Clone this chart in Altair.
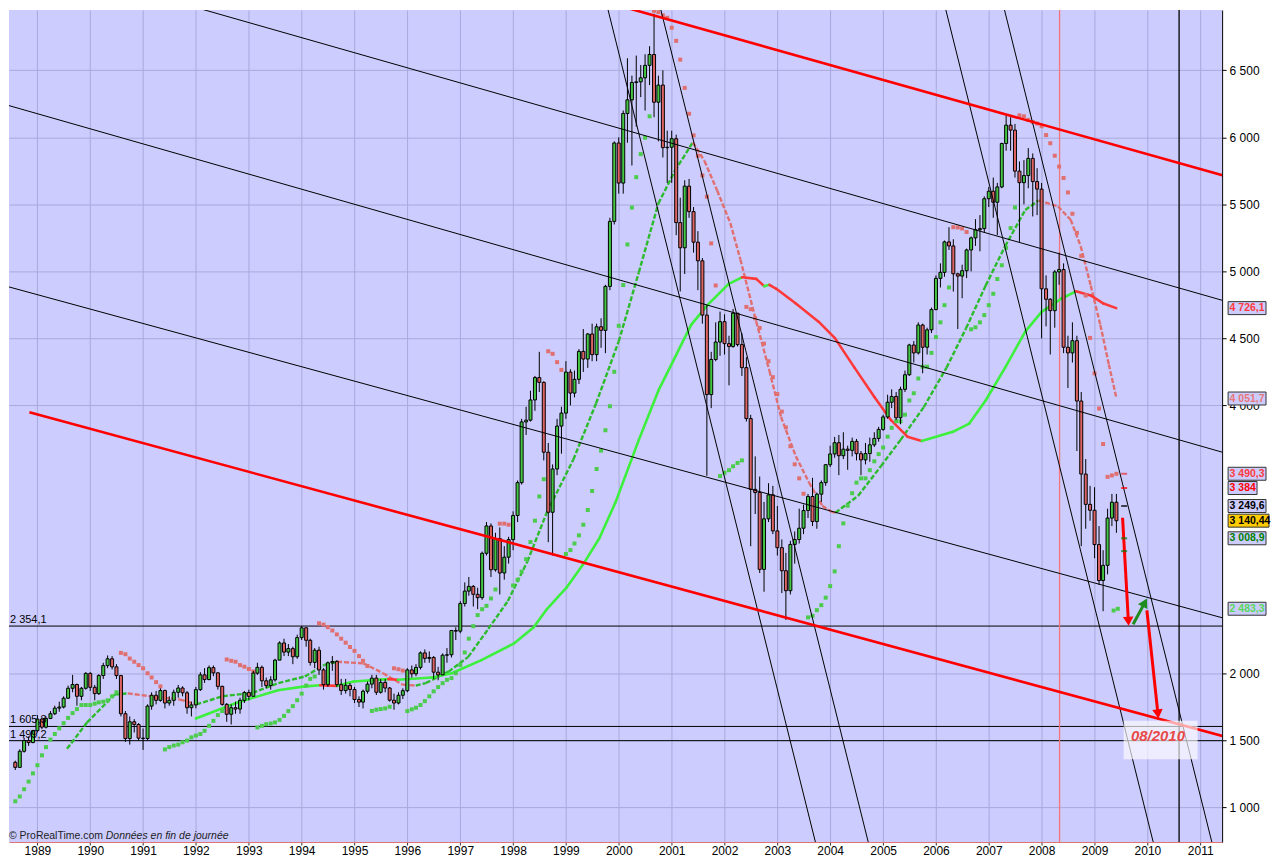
import altair as alt
import pandas as pd
import numpy as np

# ---------------- values ----------------
# monthly candles, Aug 1988 .. Jun 2009
first_month = "1988-08-01"
first_open = 1338

close = [
    1300, 1420, 1500, 1485, 1574,
    1660, 1600, 1665, 1700, 1742, 1750, 1816, 1890, 1918, 1830, 1890, 2001,
    1897, 1850, 1985, 2059, 2110, 2050, 1985, 1700, 1515, 1640, 1620, 1518,
    1515, 1757, 1838, 1800, 1873, 1780, 1800, 1860, 1892, 1856, 1745, 1766,
    1880, 1990, 1955, 2044, 2005, 1904, 1770, 1696, 1745, 1735, 1800, 1858,
    1830, 2003, 2046, 1946, 1910, 1953, 2100, 2228, 2160, 2186, 2125, 2268,
    2341, 2248, 2083, 2174, 2027, 1917, 2080, 2090, 1917, 1873, 1912, 1881,
    1806, 1787, 1868, 1921, 1966, 1860, 1934, 1892, 1801, 1780, 1838, 1872,
    2027, 1998, 2046, 2154, 2113, 2120, 2010, 1990, 2137, 2140, 2321, 2316,
    2522, 2615, 2650, 2591, 2566, 2897, 3101, 2774, 3007, 2750, 2868, 2999,
    3179, 3424, 3877, 3890, 4041, 4208, 4172, 3651, 3203, 3526, 3846, 3943,
    4249, 4092, 4195, 4403, 4346, 4533, 4379, 4587, 4560, 4888, 5373, 5958,
    5659, 6178, 6280, 6409, 6414, 6444, 6537, 6618, 6262, 6390, 5923, 5926,
    5990, 5364, 5176, 5636, 5446, 5218, 5079, 4674, 4081, 4343, 4473, 4625,
    4461, 4440, 4688, 4454, 4282, 3902, 3374, 3350, 2777, 3154, 3333, 3064,
    2939, 2767, 2618, 2963, 3000, 3084, 3216, 3321, 3134, 3338, 3424, 3558,
    3638, 3722, 3625, 3674, 3665, 3732, 3640, 3594, 3641, 3706, 3754, 3821,
    3914, 4024, 4067, 3908, 4120, 4229, 4451, 4392, 4600, 4434, 4564, 4715,
    4948, 4993, 5220, 5190, 4982, 4965, 5005, 5160, 5250, 5311, 5319, 5542,
    5598, 5516, 5630, 5954, 6091, 6054, 5748, 5662, 5715, 5843, 5670, 5614,
    4870, 4792, 4707, 4996, 5014, 4434, 4392, 4483, 4033, 3488, 3262, 3218,
    2962, 2694, 2807, 3160, 3278, 3140,
]

high = [
    1350, 1435, 1520, 1530, 1580,
    1690, 1675, 1680, 1720, 1760, 1790, 1830, 1910, 1990, 1925, 1900, 2010,
    2010, 1915, 1995, 2080, 2135, 2130, 2070, 1990, 1720, 1680, 1660, 1630,
    1590, 1770, 1860, 1870, 1890, 1880, 1830, 1880, 1915, 1905, 1870, 1790,
    1900, 2010, 2040, 2060, 2060, 2010, 1910, 1780, 1770, 1790, 1820, 1870,
    1880, 2020, 2080, 2060, 1970, 1980, 2110, 2240, 2260, 2220, 2200, 2290,
    2355, 2345, 2260, 2190, 2200, 2040, 2090, 2130, 2100, 1960, 1960, 1930,
    1900, 1830, 1880, 1940, 1990, 1990, 1960, 1960, 1900, 1850, 1860, 1890,
    2040, 2060, 2070, 2165, 2180, 2165, 2130, 2050, 2150, 2190, 2325, 2345,
    2540, 2680, 2720, 2660, 2640, 2910, 3130, 3120, 3050, 3090, 2950, 3020,
    3210, 3440, 3900, 3990, 4110, 4220, 4400, 4180, 3720, 3560, 3900, 3990,
    4330, 4270, 4260, 4420, 4570, 4540, 4610, 4610, 4650, 4900, 5400, 5970,
    6000, 6200, 6590, 6460, 6610, 6540, 6620, 6680, 6922, 6460, 6500, 6050,
    6050, 6020, 5550, 5680, 5690, 5480, 5300, 5100, 4750, 4400, 4620, 4700,
    4680, 4520, 4720, 4690, 4540, 4360, 3930, 3620, 3470, 3280, 3420, 3400,
    3250, 3000, 2900, 2990, 3060, 3230, 3260, 3340, 3460, 3350, 3440, 3560,
    3700, 3765, 3780, 3800, 3700, 3760, 3750, 3660, 3720, 3760, 3800, 3840,
    3930, 4080, 4120, 4100, 4140, 4260, 4460, 4480, 4620, 4610, 4580, 4730,
    4970, 5060, 5230, 5330, 5240, 4990, 5050, 5170, 5260, 5390, 5420, 5560,
    5630, 5700, 5660, 5960, 6168, 6150, 6100, 5820, 5830, 5920, 5880, 5770,
    5660, 4970, 4800, 5010, 5140, 5060, 4520, 4620, 4520, 4100, 3600, 3400,
    3390, 3100, 2920, 3230, 3340, 3340,
]

low = [
    1280, 1295, 1410, 1460, 1480,
    1560, 1585, 1590, 1660, 1690, 1715, 1740, 1810, 1860, 1760, 1800, 1880,
    1870, 1800, 1840, 1960, 2040, 2030, 1960, 1680, 1490, 1470, 1560, 1500,
    1430, 1500, 1730, 1770, 1790, 1740, 1760, 1760, 1820, 1830, 1700, 1680,
    1740, 1870, 1930, 1950, 1980, 1880, 1760, 1640, 1620, 1700, 1700, 1780,
    1800, 1830, 1990, 1900, 1890, 1880, 1940, 2100, 2130, 2130, 2070, 2110,
    2250, 2200, 2060, 2040, 1990, 1880, 1900, 2020, 1900, 1840, 1850, 1830,
    1780, 1750, 1740, 1850, 1890, 1840, 1850, 1860, 1790, 1730, 1770, 1810,
    1860, 1970, 1980, 2030, 2080, 2080, 1960, 1950, 1990, 2080, 2120, 2250,
    2300, 2500, 2580, 2500, 2480, 2550, 2880, 2720, 2760, 2590, 2700, 2820,
    2920, 3130, 3410, 3780, 3880, 3960, 4100, 3590, 2980, 2880, 3480, 3640,
    3900, 4000, 4060, 4160, 4250, 4280, 4330, 4330, 4430, 4390, 4860, 5350,
    5580, 5580, 5960, 5790, 6080, 6300, 6200, 6390, 6150, 5970, 5850, 5660,
    5660, 5270, 4850, 4980, 5400, 5140, 4860, 4610, 3475, 3980, 4330, 4370,
    4380, 4150, 4430, 4440, 4220, 3880, 2950, 3190, 2750, 2610, 3130, 3040,
    2880, 2600, 2400, 2590, 2820, 2970, 3040, 3160, 3100, 3080, 3280, 3400,
    3540, 3610, 3480, 3600, 3520, 3620, 3590, 3480, 3560, 3580, 3690, 3730,
    3810, 3900, 3980, 3890, 3860, 4100, 4220, 4320, 4380, 4240, 4380, 4540,
    4710, 4880, 4960, 5160, 4850, 4570, 4800, 4950, 5000, 5190, 5150, 5290,
    5480, 5400, 5270, 5620, 5900, 5900, 5700, 5220, 5500, 5620, 5410, 5420,
    4500, 4590, 4380, 4580, 4900, 4390, 4130, 4320, 3660, 2950, 3080, 3140,
    2860, 2660, 2465, 2740, 3100, 3050,
]

# parabolic SAR dots, one per month
sar = [
    1047, 1083, 1137, 1194, 1255,
    1316, 1390, 1451, 1507, 1549, 1591, 1630, 1669, 1705, 1735, 1765, 1765,
    1765, 1775, 1785, 1790, 1800, 1830, 1860, 2154, 2144, 2112, 2088, 2063,
    2039, 2002, 1971, 1936, 1904, 1434, 1451, 1463, 1470, 1487, 1500, 1524,
    1537, 1549, 1573, 1610, 1647, 1690, 1720, 2105, 2095, 2088, 2063, 2051,
    2034, 2015, 1598, 1610, 1622, 1627, 1635, 1654, 1684, 1720, 1757, 1801,
    1850, 1910, 1960, 1978, 2375, 2365, 2346, 2321, 2292, 2260, 2230, 2198,
    2169, 2130, 2095, 2056, 1721, 1730, 1735, 1740, 1752, 2039, 2032, 2022,
    1720, 1733, 1745, 1765, 1794, 1830, 1867, 1899, 1928, 1953, 1966, 2002,
    2064, 2157, 2260, 2353, 2436, 2480, 2505, 2560, 2627, 3118, 3118, 3110,
    2657, 2700, 2760, 2853, 2981, 3140, 3321, 3450, 4404, 4385, 4323, 4265,
    2892, 2921, 2970, 3031, 3110, 3220, 3362, 3526, 3663, 3815, 3994, 4251,
    4594, 4898, 5201, 5476, 5703, 5875, 5997, 6157, 6944, 6934, 6910, 6892,
    6818, 6720, 6580, 6369, 6176, 6015, 5863, 5716, 5557, 5209, 4895, 3473,
    3498, 3517, 3546, 3571, 3590, 4735, 4718, 4650, 4578, 4461, 4330, 4211,
    4085, 3954, 3836, 3696, 3561, 3456, 3341, 2419, 2431, 2473, 2510, 2566,
    2652, 2762, 2950, 3120, 3252, 3345, 3424, 3456, 3456, 3517, 3583, 3637,
    3686, 3767, 3833, 3882, 3882, 3931, 4037, 4091, 4201, 4289, 4289, 4392,
    4510, 4620, 4748, 4880, 5330, 5328, 5320, 5294, 4568, 4583, 4620, 4674,
    4748, 4833, 4943, 5046, 5176, 5323, 5477, 6164, 6157, 6130, 6115, 6103,
    6083, 6017, 5956, 5863, 5782, 5697, 5589, 5430, 5288, 5116, 4820, 4504,
    4239, 3977, 3712, 3467, 3478, 3490,
]
sar_extra_t = [2009.36, 2009.44]
sar_extra_v = [2470, 2483]

# long moving average (green rising / red falling), (fractional year, value)
ma_long_t = [1992.00, 1992.81, 1993.55, 1994.06, 1994.35, 1994.67, 1994.98, 1995.64, 1995.82,
             1996.47, 1996.84, 1997.40, 1998.01, 1998.39, 1998.64, 1999.01, 1999.32, 1999.63,
             1999.94, 2000.38, 2000.75, 2001.37, 2001.68, 2002.08, 2002.33, 2002.60, 2002.75,
             2002.85, 2002.98, 2003.35, 2003.78, 2004.09, 2004.46, 2004.84, 2005.15, 2005.46,
             2005.73, 2006.32, 2006.63, 2006.94, 2007.31, 2007.69, 2008.00, 2008.37, 2008.65,
             2008.93, 2009.17, 2009.41]
ma_long_v = [1664, 1787, 1875, 1904, 1912, 1908, 1941, 1958, 1954,
             1970, 2002, 2100, 2223, 2346, 2481, 2640, 2811, 3007,
             3279, 3743, 4110, 4603, 4750, 4907, 4956, 4944, 4890,
             4900, 4870, 4760, 4625, 4502, 4282, 4061, 3890, 3767,
             3735, 3803, 3865, 4037, 4282, 4551, 4698, 4796, 4851,
             4821, 4760, 4726]

# shorter moving average (dash-dot)
ma_short_t = [1989.56, 1989.94, 1990.46, 1990.71, 1991.14, 1991.70, 1992.01, 1992.51, 1993.07,
              1993.56, 1994.06, 1994.43, 1994.67, 1995.17, 1995.54, 1995.91, 1996.16, 1996.35,
              1996.78, 1997.15, 1997.53, 1997.90, 1998.27, 1998.64, 1999.14, 1999.57, 2000.00,
              2000.38, 2000.75, 2001.06, 2001.40, 2001.62, 2001.86, 2002.11, 2002.30, 2002.60,
              2002.85, 2003.07, 2003.35, 2003.60, 2003.85, 2004.03, 2004.10, 2004.53, 2004.96,
              2005.33, 2005.77, 2006.20, 2006.57, 2006.94, 2007.31, 2007.69, 2007.94, 2008.31,
              2008.55, 2008.74, 2008.93, 2009.11, 2009.27, 2009.41]
ma_short_v = [1439, 1635, 1843, 1852, 1831, 1806, 1770, 1831, 1855,
              1929, 1978, 2064, 2088, 2076, 2002, 1917, 1910, 1929,
              2014, 2124, 2333, 2541, 2836, 3204, 3596, 4015, 4478,
              4993, 5507, 5750, 5963, 5824, 5603, 5360, 5089, 4625,
              4257, 3914, 3620, 3424, 3252, 3206, 3200, 3326, 3547,
              3743, 3988, 4282, 4576, 4894, 5188, 5458, 5529, 5485,
              5385, 5188, 4894, 4600, 4306, 4061]

# drawn trend lines: start (year, value) -> end (year, value)
trend_t1 = [2000.00, 1988.85, 1991.90, 1988.40, 1988.40, 1999.78, 2000.78, 2006.17, 2007.28]
trend_v1 = [6983, 3949, 6980, 6244, 4891, 6978, 6978, 6978, 6978]
trend_t2 = [2011.50, 2011.50, 2011.50, 2011.50, 2011.50, 2003.72, 2004.72, 2010.11, 2011.22]
trend_v2 = [5708, 1525, 4775, 3642, 2407, 743, 743, 743, 743]
trend_kind = ["red", "red", "black", "black", "black", "black", "black", "black", "black"]

hline_v = [2354.1, 1605.3, 1499.2]
hline_label = ["2 354,1", "1 605,3", "1 499,2"]
vline_t = [2008.34, 2010.60]
vline_kind = ["pink", "black"]

# forecast arrows
arrow_t1 = [2009.53, 2009.73, 2009.99]
arrow_v1 = [3162, 2368, 2471]
arrow_t2 = [2009.64, 2009.95, 2010.20]
arrow_v2 = [2390, 2529, 1699]
arrow_kind = ["red", "green", "red"]

# next-value markers right of the last candle
mark_t = 2009.56
mark_v = [3490.3, 3384, 3249.6, 3008.9, 2913]
mark_col = ["#E83030", "#FF0000", "#000000", "#007A00", "#007A00"]

# value boxes on the price axis
box_v = [4726.1, 4051.7, 3490.3, 3384, 3249.6, 3140.44, 3008.9, 2483.3]
box_txt = ["4 726,1", "4 051,7", "3 490,3", "3 384", "3 249,6", "3 140,44", "3 008,9", "2 483,3"]
box_fg = ["#FF3B3B", "#E87878", "#FF3B3B", "#FF0000", "#000000", "#000000", "#008000", "#5AD85A"]
box_bg = ["#CCCCFF", "#CCCCFF", "#CCCCFF", "#CCCCFF", "#CCCCFF", "#FFCC00", "#CCCCFF", "#CCCCFF"]
box_extent = [44, 44, 44, 35, 44, 47, 44, 44]

y_tick_values = [1000, 1500, 2000, 4000, 4500, 5000, 5500, 6000, 6500]

target_label = "08/2010"

# ---------------- layout ----------------
W, H = 1216, 834
Y_MIN, Y_MAX = 743, 6950
BG = "#CCCCFF"
GRID = "#A9A9DC"
GREEN = "#44C844"
RED = "#E06464"
FONT = "Liberation Sans"


def fy(t):
    y = int(t)
    return pd.Timestamp(year=y, month=1, day=1) + pd.Timedelta(days=(t - y) * 365.25)


XS = alt.Scale(domain=[alt.DateTime(year=1988, month=7, date=23),
                       alt.DateTime(year=2011, month=4, date=28)])
YS = alt.Scale(domain=[Y_MIN, Y_MAX], nice=False, zero=False)

XAX = alt.Axis(values=[alt.DateTime(year=y, month=1, date=1) for y in range(1989, 2012)],
               format="%Y", title=None, grid=True, gridColor=GRID, gridOpacity=1,
               tickSize=3, tickColor="#333333", labelFontSize=12, labelPadding=1,
               labelFlush=False, labelOverlap=False, domainColor="#E07070",
               labelColor="#000000", labelFont=FONT)
YAX = alt.Axis(orient="right", values=y_tick_values, title=None,
               labelExpr="replace(format(datum.value, ','), ',', ' ')",
               grid=True, gridColor=GRID, gridOpacity=1, tickSize=4, tickColor="#000000",
               labelFontSize=12, labelPadding=3, labelOverlap=False, labelFlush=False,
               domainColor="#000000", labelColor="#000000", labelFont=FONT)


def X(f):
    return alt.X(f, type="temporal", scale=XS, axis=XAX, title=None)


def Y(f):
    return alt.Y(f, type="quantitative", scale=YS, axis=YAX, title=None)


def C(f):
    return alt.Color(f, type="nominal", scale=None, legend=None)


months = pd.date_range(first_month, periods=len(close), freq="MS")
opens = [first_open] + close[:-1]
cd = pd.DataFrame({"date": months, "open": opens, "close": close,
                   "high": high, "low": low, "sar": sar})
cd["body_col"] = np.where(cd["close"] >= cd["open"], GREEN, RED)
cd["sar_col"] = np.where(cd["sar"] < cd["close"], "#4CCC4C", "#E07070")


def segs(ts, vs, up_col, down_col):
    rows = []
    for i in range(len(ts) - 1):
        rows.append({"t1": fy(ts[i]), "t2": fy(ts[i + 1]), "v1": vs[i], "v2": vs[i + 1],
                     "col": up_col if vs[i + 1] >= vs[i] else down_col})
    return pd.DataFrame(rows)


axes = alt.Chart(cd).mark_point(opacity=0, clip=True).encode(x=X("date"), y=Y("close"))

hl = pd.DataFrame({"v": hline_v, "label": hline_label})
hlines = alt.Chart(hl).mark_rule(color="#000000", strokeWidth=1).encode(y=Y("v"))
hlabels = alt.Chart(hl).mark_text(align="left", baseline="bottom", dy=-1, fontSize=11,
                                  font=FONT, color="#000000").encode(
    x=alt.value(1), y=Y("v"), text="label:N")

vl = pd.DataFrame({"t": [fy(t) for t in vline_t],
                   "col": ["#F07878" if k == "pink" else "#000000" for k in vline_kind]})
vlines = alt.Chart(vl).mark_rule(strokeWidth=1.3).encode(x=X("t"), color=C("col"))

ml = segs(ma_long_t, ma_long_v, "#3CF03C", "#FF3838")
ma_long = alt.Chart(ml).mark_rule(strokeWidth=2.6, strokeCap="round").encode(
    x=X("t1"), x2="t2", y=Y("v1"), y2="v2", color=C("col"))
ms = segs(ma_short_t, ma_short_v, "#2DBB2D", "#E07070")
ma_short = alt.Chart(ms).mark_rule(strokeWidth=2.4, strokeDash=[5, 2]).encode(
    x=X("t1"), x2="t2", y=Y("v1"), y2="v2", color=C("col"))

sar_dots = alt.Chart(cd).mark_square(size=16, opacity=1, clip=True).encode(
    x=X("date"), y=Y("sar"), color=C("sar_col"))
se = pd.DataFrame({"t": [fy(t) for t in sar_extra_t], "v": sar_extra_v})
sar_extra = alt.Chart(se).mark_square(size=16, opacity=1, color="#4CCC4C").encode(x=X("t"), y=Y("v"))

wicks = alt.Chart(cd).mark_rule(color="#000000", strokeWidth=1, clip=True).encode(
    x=X("date"), y=Y("low"), y2="high")
bodies = alt.Chart(cd).mark_bar(size=3, stroke="#000000", strokeWidth=1, opacity=1, clip=True).encode(
    x=X("date"), y=Y("open"), y2="close", color=C("body_col"))

tl = pd.DataFrame({"t1": [fy(t) for t in trend_t1], "t2": [fy(t) for t in trend_t2],
                   "v1": trend_v1, "v2": trend_v2, "kind": trend_kind})
trend_black = alt.Chart(tl[tl.kind == "black"]).mark_rule(color="#000000", strokeWidth=1, clip=True).encode(
    x=X("t1"), x2="t2", y=Y("v1"), y2="v2")
trend_red = alt.Chart(tl[tl.kind == "red"]).mark_rule(color="#FF0000", strokeWidth=2.6, clip=True).encode(
    x=X("t1"), x2="t2", y=Y("v1"), y2="v2")

ar = pd.DataFrame({"t1": [fy(t) for t in arrow_t1], "t2": [fy(t) for t in arrow_t2],
                   "v1": arrow_v1, "v2": arrow_v2, "kind": arrow_kind})
ar["col"] = np.where(ar["kind"] == "red", "#FF0000", "#1E8C1E")
ar["shape"] = np.where(ar["kind"] == "red", "triangle-down", "triangle-up")
ar["ang"] = [357, 28, 354]
arrow_shaft = alt.Chart(ar).mark_rule(strokeWidth=3).encode(
    x=X("t1"), x2="t2", y=Y("v1"), y2="v2", color=C("col"))
arrow_head = alt.Chart(ar).mark_point(filled=True, size=110, opacity=1).encode(
    x=X("t2"), y=Y("v2"), color=C("col"), fill=alt.Fill("col:N", scale=None),
    shape=alt.Shape("shape:N", scale=None), angle=alt.Angle("ang:Q", scale=None))

mk = pd.DataFrame({"t": [fy(mark_t)] * len(mark_v), "v": mark_v, "c": mark_col})
markers = alt.Chart(mk).mark_tick(orient="horizontal", thickness=2, size=6).encode(
    x=X("t"), y=Y("v"), color=C("c"))

tb = pd.DataFrame({"t1": [fy(2009.55)], "t2": [fy(2010.95)], "v1": [1360], "v2": [1647],
                   "tm": [fy(2010.20)], "vm": [1537], "label": [target_label]})
target_box = alt.Chart(tb).mark_rect(color="#FFFFFF", opacity=0.65).encode(
    x=X("t1"), x2="t2", y=Y("v1"), y2="v2")
target_text = alt.Chart(tb).mark_text(font=FONT, fontSize=15, fontStyle="italic",
                                      fontWeight="bold", color="#E84848").encode(
    x=X("tm"), y=Y("vm"), text="label:N")

half = 6.5 * (Y_MAX - Y_MIN) / H
bx = pd.DataFrame({"v": box_v, "txt": box_txt, "fg": box_fg, "bg": box_bg, "ext": box_extent})
bx["top"] = bx["v"] + half
bx["bot"] = bx["v"] - half
box_layers = []
for e in sorted(set(box_extent)):
    sub = bx[bx["ext"] == e]
    box_layers.append(
        alt.Chart(sub).mark_rect(stroke="#333333", strokeWidth=1).encode(
            x=alt.value(W + 6), x2=alt.value(W + e), y=Y("top"), y2="bot",
            fill=alt.Fill("bg:N", scale=None)))
value_text = alt.Chart(bx).mark_text(align="left", baseline="middle", fontSize=10.5,
                                     fontWeight="bold", font=FONT).encode(
    x=alt.value(W + 7.5), y=Y("v"), text="txt:N", color=C("fg"))

cp = pd.DataFrame({"a": ["\u00a9 ProRealTime.com"], "b": ["Donn\u00e9es en fin de journ\u00e9e"]})
copy1 = alt.Chart(cp).mark_text(align="left", baseline="middle", fontSize=10.5, font=FONT,
                                color="#222222").encode(x=alt.value(0), y=alt.value(H - 6), text="a:N")
copy2 = alt.Chart(cp).mark_text(align="left", baseline="middle", fontSize=10.5, font=FONT,
                                fontStyle="italic", color="#222222").encode(x=alt.value(97), y=alt.value(H - 6), text="b:N")

chart = alt.layer(
    axes, hlines, vlines, ma_short, ma_long, sar_dots, sar_extra, wicks, bodies,
    trend_black, trend_red, arrow_shaft, arrow_head, markers, target_box, target_text,
    hlabels, copy1, copy2, *box_layers, value_text,
).properties(width=W, height=H, padding=0, background="#FFFFFF").configure_view(
    fill=BG, stroke=None
)

chart.save("out.html", embed_options={"renderer": "svg", "actions": False})
